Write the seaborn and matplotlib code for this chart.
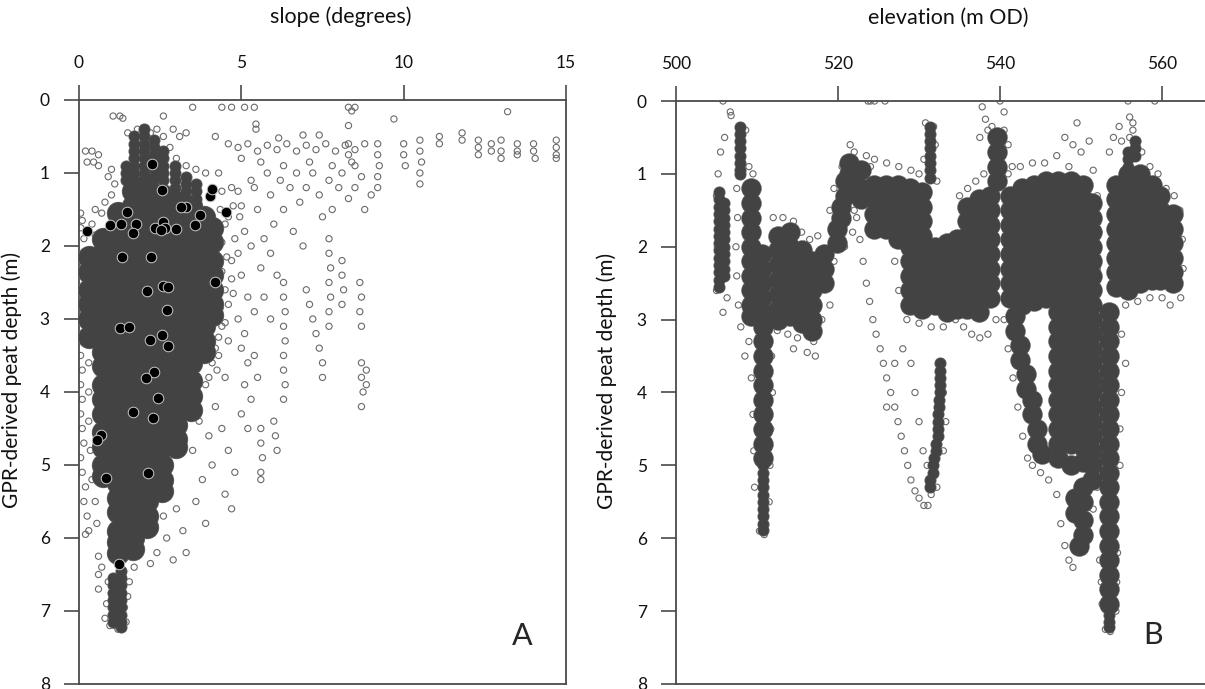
#!/usr/bin/env python3
"""
Peat depth from GPR against slope (A) and elevation (B).
Two scatter panels, depth axis pointing down, x axis on top.
"""
import matplotlib
matplotlib.use("Agg")
import matplotlib.pyplot as plt
import pandas as pd
import seaborn as sns

# ---------------------------------------------------------------- panel A data
# dense part of the cloud, as columns: (slope, [depths])
a_core = [
    (0.30, [2.15, 2.35, 2.6, 2.8, 3.0, 3.25]),
    (0.75, [1.9, 2.1, 2.35, 2.55, 2.8, 3.0, 3.2, 3.45, 3.65, 3.9, 4.1, 4.3, 4.55, 4.75, 5.0, 5.15]),
    (1.20, [1.55, 1.75, 2.0, 2.2, 2.4, 2.65, 2.85, 3.05, 3.3, 3.5, 3.7, 3.95, 4.15, 4.35, 4.6, 4.8,
            5.0, 5.25, 5.45, 5.65, 5.9, 6.05, 6.2]),
    (1.65, [1.25, 1.45, 1.7, 1.9, 2.1, 2.35, 2.55, 2.75, 3.0, 3.2, 3.4, 3.65, 3.85, 4.05, 4.3, 4.5,
            4.7, 4.95, 5.15, 5.35, 5.6, 5.8, 6.0, 6.15]),
    (2.10, [1.15, 1.35, 1.6, 1.8, 2.0, 2.25, 2.45, 2.65, 2.9, 3.1, 3.3, 3.55, 3.75, 3.95, 4.2, 4.4,
            4.6, 4.85, 5.05, 5.25, 5.5, 5.7, 5.85]),
    (2.55, [1.3, 1.5, 1.75, 1.95, 2.15, 2.4, 2.6, 2.8, 3.05, 3.25, 3.45, 3.7, 3.9, 4.1, 4.35, 4.55,
            4.75, 5.0, 5.2, 5.35]),
    (3.00, [1.4, 1.6, 1.85, 2.05, 2.25, 2.5, 2.7, 2.9, 3.15, 3.35, 3.55, 3.8, 4.0, 4.2, 4.45, 4.65, 4.75]),
    (3.45, [1.45, 1.65, 1.9, 2.1, 2.3, 2.55, 2.75, 2.95, 3.2, 3.4, 3.6, 3.85, 4.05, 4.25]),
    (3.85, [1.6, 1.8, 2.05, 2.25, 2.45, 2.7, 2.9, 3.1, 3.3, 3.45]),
    (4.10, [1.75, 1.95, 2.2, 2.4, 2.6, 2.8, 2.95]),
]

# thinner dark streaks: (slope, [depths])
a_band = [
    (1.45, [0.9, 1.0, 1.1]),
    (1.70, [0.5, 0.6, 0.7, 0.8, 0.9, 1.0, 1.1]),
    (2.00, [0.4, 0.5, 0.6, 0.7, 0.8, 0.9, 1.0]),
    (2.30, [0.55, 0.65, 0.75, 0.85, 0.95, 1.05]),
    (2.60, [0.7, 0.8, 0.9, 1.0, 1.1]),
    (2.95, [0.9, 1.0, 1.1, 1.2]),
    (3.30, [1.05, 1.15, 1.25]),
    (3.60, [1.15, 1.25, 1.35]),
    (1.05, [6.55, 6.65, 6.75, 6.85, 6.95, 7.05, 7.15]),
    (1.30, [6.45, 6.55, 6.65, 6.75, 6.85, 6.95, 7.05, 7.15, 7.22]),
]

# loose points around the cloud: (slope, depth)
a_sparse_top = [
    (3.5, 0.1), (4.4, 0.1), (4.7, 0.1), (5.1, 0.1), (5.4, 0.1), (8.3, 0.1), (8.4, 0.15),
    (8.5, 0.1), (8.3, 0.35), (9.7, 0.26), (13.2, 0.16), (1.05, 0.22), (1.26, 0.22),
    (1.35, 0.25), (2.6, 0.22), (1.5, 0.45), (1.8, 0.4), (2.2, 0.45), (2.4, 0.4), (2.6, 0.5),
    (2.9, 0.4), (3.1, 0.5), (3.3, 0.45), (1.9, 0.6), (2.8, 0.65), (5.45, 0.33), (5.45, 0.4),
    (4.2, 0.5), (6.15, 0.52), (6.9, 0.48), (7.4, 0.48),
    (0.2, 0.7), (0.4, 0.7), (0.6, 0.75), (0.25, 0.85), (0.45, 0.85), (0.6, 0.9),
    (0.9, 1.05), (1.0, 0.95), (1.1, 1.15), (1.0, 1.3), (0.8, 1.4), (0.7, 1.55), (0.5, 1.5),
    (3.3, 0.9), (3.6, 0.95), (3.9, 1.0), (4.1, 1.2), (1.8, 1.15), (2.2, 1.15), (3.0, 0.8),
    (0.05, 1.55), (0.1, 1.65), (0.05, 1.75), (0.15, 1.9), (0.4, 1.7), (0.5, 1.85),
]
a_sparse_mid = [
    (4.6, 0.6), (4.9, 0.65), (5.2, 0.6), (5.5, 0.7), (5.8, 0.62), (6.1, 0.68), (6.4, 0.6),
    (6.7, 0.7), (7.0, 0.62), (7.3, 0.68), (7.6, 0.6), (7.9, 0.7), (8.2, 0.62), (8.5, 0.68),
    (8.8, 0.6), (5.0, 0.8), (5.6, 0.85), (6.3, 0.9), (7.1, 0.85), (7.8, 0.9), (8.4, 0.85),
    (4.6, 1.6), (4.7, 2.2), (4.6, 2.8), (4.4, 3.1), (5.0, 1.45), (5.1, 1.8), (4.9, 2.1),
    (5.0, 2.4), (5.2, 2.7), (5.4, 1.2), (5.5, 1.5), (5.3, 2.0), (5.6, 2.3), (5.8, 1.0),
    (5.9, 1.3), (6.0, 1.7), (6.2, 1.1), (6.3, 1.5), (6.5, 1.2), (6.7, 1.0), (6.8, 1.4),
    (7.0, 1.2), (7.2, 1.0), (7.4, 1.3), (7.5, 1.6), (7.7, 1.1), (7.8, 1.5), (8.0, 1.2),
    (8.1, 1.0), (8.3, 1.35), (8.5, 1.2), (8.7, 1.05), (8.8, 1.5), (9.0, 1.3), (5.7, 1.9),
    (5.9, 2.1), (6.1, 2.4), (5.4, 2.9), (5.7, 2.7), (5.9, 3.0), (6.6, 1.8), (6.9, 2.0),
    (5.3, 1.1), (4.9, 3.0), (5.1, 3.2),
    (4.3, 1.0), (4.4, 1.25), (4.35, 1.5), (4.5, 1.7), (4.4, 1.95), (4.55, 2.15), (4.4, 2.35),
    (4.5, 2.6), (4.35, 2.85), (4.5, 3.05), (4.3, 3.25), (4.7, 1.2), (4.75, 1.45), (4.8, 1.9),
    (4.7, 2.45), (4.75, 2.65), (4.9, 1.25), (4.95, 1.6), (4.6, 3.3), (4.2, 3.4), (4.25, 3.7),
    (4.0, 3.8),
]
a_sparse_streaks = [
    (6.3, 2.5), (6.3, 2.7), (6.35, 2.9), (6.3, 3.1), (6.35, 3.3), (6.3, 3.5), (6.3, 3.7),
    (6.35, 3.9), (6.3, 4.1), (7.0, 2.6), (7.1, 2.8), (7.2, 3.0), (7.3, 3.2), (7.4, 3.4),
    (7.5, 3.6), (7.5, 3.8), (7.7, 1.9), (7.7, 2.1), (7.75, 2.3), (7.7, 2.5), (7.75, 2.7),
    (7.7, 2.9), (7.7, 3.1), (8.1, 2.2), (8.1, 2.4), (8.15, 2.6), (8.1, 2.8), (8.7, 3.6),
    (8.7, 3.8), (8.75, 4.0), (8.7, 4.2), (8.85, 3.7), (8.85, 3.9), (8.65, 2.5), (8.7, 2.7),
    (8.65, 2.9), (8.7, 3.1), (5.6, 4.5), (5.6, 4.7), (5.65, 4.9), (5.6, 5.1), (5.6, 5.2),
    (6.0, 4.4), (6.05, 4.6), (6.1, 4.8), (5.0, 3.4), (5.2, 3.6), (5.1, 3.9), (5.3, 4.1),
    (5.4, 3.5), (5.5, 3.8), (5.0, 4.3), (5.2, 4.5), (4.3, 3.5), (4.5, 3.8), (4.2, 4.2),
    (4.4, 4.5), (4.6, 4.8), (4.8, 5.1), (4.5, 5.4), (4.7, 5.6), (4.0, 4.6), (4.1, 5.0),
    (3.8, 5.2), (3.6, 5.5), (3.9, 5.8), (3.5, 4.8), (3.7, 4.4), (3.9, 3.9), (4.1, 3.6),
]
a_sparse_low = [
    (3.0, 5.6), (3.2, 5.9), (2.7, 6.0), (3.3, 6.2), (2.9, 6.3), (2.6, 5.7), (2.4, 6.2),
    (2.2, 6.35), (0.05, 3.5), (0.1, 3.7), (0.05, 3.9), (0.1, 4.1), (0.05, 4.3), (0.1, 4.5),
    (0.15, 4.7), (0.05, 4.9), (0.1, 5.1), (0.2, 5.3), (0.15, 5.5), (0.25, 5.7), (0.3, 5.9),
    (0.2, 5.95), (0.3, 3.6), (0.3, 4.0), (0.3, 4.4), (0.35, 4.8), (0.4, 5.2), (0.5, 5.5),
    (0.55, 5.8), (0.6, 6.25), (0.7, 6.4), (0.9, 6.6), (1.0, 6.75), (0.85, 6.9), (1.0, 7.05),
    (1.1, 7.2), (1.2, 7.25), (1.3, 7.1), (1.4, 6.95), (1.5, 6.8), (1.15, 6.6), (1.35, 6.5),
    (1.25, 6.85), (1.45, 7.15), (0.8, 7.1), (0.6, 6.5), (0.6, 6.7), (1.1, 6.9), (1.3, 6.7),
    (0.95, 7.2), (1.55, 6.6), (1.7, 6.4),
]
a_sparse_tail = [
    (8.3, 0.6), (8.3, 0.75), (8.5, 0.9), (9.2, 0.6), (9.2, 0.75), (9.25, 0.9), (9.2, 1.05),
    (9.2, 1.2), (10.0, 0.6), (10.0, 0.75), (10.05, 0.9), (10.5, 0.55), (10.5, 0.7),
    (10.55, 0.85), (10.5, 1.0), (10.5, 1.15), (11.1, 0.5), (11.1, 0.6), (11.8, 0.45),
    (11.8, 0.55), (12.3, 0.55), (12.3, 0.65), (12.3, 0.75), (12.7, 0.6), (12.7, 0.7),
    (13.0, 0.55), (13.0, 0.7), (13.0, 0.8), (13.5, 0.6), (13.5, 0.7), (13.5, 0.75),
    (14.0, 0.6), (14.0, 0.7), (14.05, 0.8), (14.7, 0.55), (14.7, 0.65), (14.7, 0.75),
    (14.7, 0.8),
]

# probed peat depths (black dots): (slope, depth)
a_probes = [
    (0.25, 1.79), (2.25, 0.88), (2.55, 1.23), (1.48, 1.53), (3.29, 1.47), (3.14, 1.47),
    (4.03, 1.32), (4.09, 1.22), (4.52, 1.53), (3.72, 1.58), (0.95, 1.71), (1.29, 1.70),
    (1.75, 1.70), (1.66, 1.82), (2.34, 1.75), (2.58, 1.67), (2.65, 1.75), (2.98, 1.77),
    (3.57, 1.71), (2.52, 1.78), (2.22, 2.15), (1.32, 2.15), (4.18, 2.49), (2.09, 2.62),
    (2.58, 2.55), (2.74, 2.56), (2.71, 2.88), (1.26, 3.12), (1.54, 3.11), (2.55, 3.22),
    (2.18, 3.29), (2.74, 3.37), (2.31, 3.73), (2.06, 3.81), (2.43, 4.08), (2.28, 4.36),
    (1.66, 4.27), (0.68, 4.59), (0.55, 4.66), (0.83, 5.18), (2.12, 5.11), (1.23, 6.36),
]

# ---------------------------------------------------------------- panel B data
# dense bands: (elevation, [depths])
b_core = [
    (509.2, [1.2, 1.4, 1.6, 1.8, 2.0, 2.2, 2.4, 2.6, 2.8, 2.95]),
    (510.6, [2.1, 2.3, 2.5, 2.7, 2.9]),
    (510.7, [3.1, 3.3, 3.5, 3.7, 3.9, 4.1, 4.3, 4.5, 4.7, 4.9]),
    (512.6, [1.85, 2.05, 2.25, 2.45, 2.65, 2.85, 3.0]),
    (514.1, [1.8, 2.0, 2.2, 2.4, 2.6, 2.8, 2.95]),
    (515.6, [2.05, 2.25, 2.45, 2.65, 2.85, 3.05]),
    (516.8, [2.2, 2.4, 2.6, 2.8, 3.0, 3.15]),
    (518.3, [2.1, 2.3, 2.5]),
    (519.9, [1.75, 1.95]), (520.4, [1.45, 1.6]), (520.9, [1.1, 1.3]), (521.4, [0.85, 1.0]),
    (522.8, [0.95, 1.2, 1.35]),
    (524.4, [1.15, 1.35, 1.55, 1.75]),
    (525.9, [1.15, 1.35, 1.55, 1.75]),
    (527.4, [1.15, 1.35, 1.55, 1.75, 1.9]),
    (528.9, [1.2, 1.4, 1.6, 1.8, 2.0, 2.2, 2.4, 2.6, 2.8]),
    (530.4, [1.25, 1.45, 1.65, 1.85, 2.05, 2.25, 2.45, 2.65, 2.85]),
    (532.0, [2.0, 2.2, 2.4, 2.6, 2.8]),
    (533.5, [1.95, 2.15, 2.35, 2.55, 2.75, 2.9]),
    (534.7, [1.9, 2.1, 2.3, 2.5, 2.7, 2.85]),
    (535.9, [1.45, 1.65, 1.85, 2.05, 2.25, 2.45, 2.65, 2.85]),
    (537.4, [1.35, 1.55, 1.75, 1.95, 2.15, 2.35, 2.55, 2.75, 2.9]),
    (538.8, [1.3, 1.5, 1.7, 1.9, 2.1, 2.3, 2.5, 2.7]),
    (539.6, [0.5, 0.7, 0.9, 1.1]),
    (541.2, [1.3, 1.5, 1.7, 1.9, 2.1, 2.3, 2.5, 2.7]),
    (542.7, [1.2, 1.4, 1.6, 1.8, 2.0, 2.2, 2.4, 2.6, 2.8]),
    (544.2, [1.15, 1.35, 1.55, 1.75, 1.95, 2.15, 2.35, 2.55, 2.75]),
    (545.7, [1.1, 1.3, 1.5, 1.7, 1.9, 2.1, 2.3, 2.5, 2.7]),
    (547.2, [1.1, 1.3, 1.5, 1.7, 1.9, 2.1, 2.3, 2.5, 2.7, 2.9, 3.1, 3.3, 3.5, 3.7, 3.9, 4.1,
             4.3, 4.5, 4.7, 4.9]),
    (548.7, [1.1, 1.3, 1.5, 1.7, 1.9, 2.1, 2.3, 2.5, 2.7, 2.9, 3.1, 3.3, 3.5, 3.7, 3.9, 4.1,
             4.3, 4.5, 4.7, 5.0]),
    (550.2, [1.15, 1.35, 1.55, 1.75, 1.95, 2.15, 2.35, 2.55, 2.75, 2.95, 3.15, 3.35, 3.55,
             3.75, 3.95, 4.15, 4.35, 4.55, 4.75, 4.95, 5.3]),
    (551.4, [1.4, 1.6, 1.8, 2.0, 2.2, 2.4, 2.6, 2.8, 3.0, 3.2, 3.4, 3.6, 3.8, 4.0, 4.2, 4.4,
             4.6, 4.8, 5.0, 5.2]),
    (541.8, [2.95, 3.15]), (542.5, [3.35, 3.55]), (543.2, [3.75, 3.95]), (543.9, [4.1, 4.3]),
    (544.6, [4.5, 4.7]), (545.2, [4.85]),
    (549.2, [5.45, 5.65]), (550.3, [5.5, 5.75, 5.95]), (549.8, [6.1]),
    (553.5, [2.9, 3.1, 3.3, 3.5, 3.7, 3.9, 4.1, 4.3, 4.5, 4.7, 4.9, 5.1, 5.3, 5.5, 5.7, 5.9,
             6.1, 6.3, 6.5, 6.7, 6.9]),
    (554.3, [1.15, 1.35, 1.55, 1.75, 1.95, 2.15, 2.35, 2.55]),
    (555.8, [1.0, 1.2, 1.4, 1.6, 1.8, 2.0, 2.2, 2.4, 2.6]),
    (557.3, [1.0, 1.2, 1.4, 1.6, 1.8, 2.0, 2.2, 2.4, 2.5]),
    (558.8, [1.15, 1.35, 1.55, 1.75, 1.95, 2.15, 2.35, 2.45]),
    (559.8, [1.3, 1.5, 1.7, 1.9, 2.1, 2.3, 2.45]),
    (561.3, [1.55, 1.75, 1.95, 2.15, 2.35, 2.5]),
]

# thin dark traces: (elevation, [depths])
b_band = [
    (505.3, [1.25, 1.35, 1.45, 1.55, 1.65, 1.75, 1.85, 1.95, 2.05, 2.15, 2.25, 2.35, 2.45, 2.55]),
    (505.9, [1.4, 1.5, 1.6, 1.7, 1.8, 1.9, 2.0, 2.1, 2.2, 2.3, 2.4]),
    (507.9, [0.35, 0.45, 0.55, 0.65, 0.75, 0.85, 0.95, 1.0]),
    (510.7, [5.0, 5.1, 5.2, 5.3, 5.4, 5.5, 5.6, 5.7, 5.8, 5.88]),
    (532.6, [3.6, 3.7, 3.8, 3.9, 4.0]), (532.5, [4.1, 4.2]), (532.4, [4.3, 4.4]),
    (532.3, [4.5, 4.6]), (532.1, [4.7, 4.8]), (531.9, [4.9]), (531.7, [5.0, 5.1]),
    (531.4, [5.2, 5.3]),
    (531.3, [0.35, 0.45, 0.55, 0.65, 0.75, 0.85, 0.95, 1.05]),
    (553.4, [6.95, 7.05, 7.15, 7.22]),
    (555.8, [0.7, 0.8, 0.9]), (556.6, [0.55, 0.65, 0.75]),
]

# loose points: (elevation, depth)
b_sparse_west = [
    (505.8, 0.0), (506.7, 0.15), (506.8, 0.2), (505.0, 1.3), (505.2, 1.0), (505.5, 0.7),
    (506.0, 0.5), (505.1, 2.0), (506.2, 2.2), (505.0, 2.6), (506.3, 2.7), (505.8, 2.9),
    (508.0, 3.1), (508.5, 3.5), (509.0, 3.3), (509.3, 3.8), (509.5, 4.3), (509.6, 4.8),
    (509.7, 5.3), (511.8, 3.5), (511.9, 4.0), (511.7, 4.5), (511.6, 5.0), (511.5, 5.5),
    (510.3, 5.9), (510.9, 5.95), (507.5, 1.2), (507.6, 1.6), (507.4, 2.0), (507.5, 2.4),
    (507.7, 2.8), (509.0, 0.9), (509.5, 1.0), (508.6, 0.4),
    (512.0, 1.6), (513.2, 1.6), (514.5, 1.65), (515.5, 1.8), (516.5, 1.9), (517.5, 1.85),
    (512.5, 3.15), (513.8, 3.2), (515.0, 3.25), (516.2, 3.45), (517.2, 3.5), (518.0, 3.0),
    (519.0, 2.8), (519.5, 2.2), (517.0, 3.3), (514.5, 3.4),
    (519.0, 1.5), (519.5, 1.2), (520.5, 0.9), (521.5, 0.6), (522.0, 0.7), (523.5, 0.75),
    (524.0, 0.9), (522.0, 1.5), (521.8, 1.8), (520.8, 2.0),
    (523.7, 0.0), (524.0, 0.0), (524.5, 0.0), (525.8, 0.0),
]
b_sparse_trough = [
    (522.3, 1.6), (522.7, 1.9), (523.1, 2.2), (523.5, 2.5), (523.9, 2.75), (524.3, 3.0),
    (524.7, 3.2), (525.2, 3.4), (525.6, 3.6), (526.0, 3.8), (526.5, 4.0), (527.0, 4.2),
    (527.4, 4.4), (527.8, 4.6), (528.2, 4.8), (528.6, 5.0), (529.0, 5.2), (529.5, 5.35),
    (530.0, 5.45), (530.6, 5.55), (531.1, 5.55), (531.5, 5.4), (526.0, 4.2), (527.0, 3.6),
    (528.0, 3.4), (529.0, 3.6), (529.5, 4.0), (530.0, 4.4), (530.5, 4.8), (531.0, 5.0),
    (533.0, 4.0), (533.3, 4.4), (533.0, 4.8), (532.2, 5.3),
    (524.5, 0.8), (526.0, 0.85), (527.5, 0.9), (529.0, 0.95), (530.0, 1.0), (534.5, 1.9),
    (535.0, 2.2), (534.5, 3.0), (533.0, 3.1), (531.5, 3.1), (530.0, 3.05), (528.5, 3.0),
    (527.5, 2.6), (527.0, 2.2), (530.8, 0.3), (531.8, 0.35), (532.0, 0.6), (530.6, 0.8),
    (532.2, 1.1),
]
b_sparse_east = [
    (537.8, 0.08), (540.0, 0.0), (540.5, 0.15), (538.2, 0.25), (554.7, 0.35), (556.4, 0.3),
    (556.4, 0.4), (555.8, 0.0), (559.1, 0.0), (556.0, 0.22),
    (535.0, 1.3), (536.0, 1.2), (537.0, 1.1), (538.0, 1.0), (537.5, 0.5), (538.5, 0.4),
    (539.0, 0.35), (540.5, 0.4), (541.0, 0.6), (541.5, 0.9), (535.5, 3.1), (536.5, 3.2),
    (537.5, 3.25), (538.5, 3.2), (539.5, 3.0),
    (541.0, 1.0), (542.5, 0.9), (544.0, 0.85), (545.5, 0.85), (547.0, 0.75), (548.0, 0.5),
    (549.0, 0.6), (550.0, 0.7), (551.0, 0.55), (549.5, 0.3), (548.5, 0.9), (551.5, 0.95),
    (552.0, 1.3), (552.2, 1.8), (552.0, 2.3),
    (540.5, 3.0), (541.0, 3.4), (541.6, 3.8), (542.2, 4.2), (542.8, 4.6), (543.4, 4.9),
    (544.0, 5.0), (545.0, 5.1), (546.0, 5.2), (547.0, 5.4), (547.5, 5.8), (548.0, 6.1),
    (548.5, 6.3), (549.0, 6.4), (551.0, 6.0), (551.5, 5.6), (552.0, 5.3),
    (552.3, 6.3), (552.5, 6.6), (552.6, 6.9), (554.5, 6.2), (554.4, 6.6), (554.3, 7.0),
    (553.6, 7.28), (553.0, 7.25),
    (553.5, 0.7), (554.0, 0.5), (555.0, 0.55), (556.0, 0.5), (557.0, 0.55), (557.5, 0.7),
    (558.5, 0.9), (559.5, 1.0), (560.5, 1.2), (561.5, 1.3), (562.2, 1.5), (562.5, 1.9),
    (562.6, 2.3), (562.3, 2.7), (561.0, 2.8), (560.0, 2.7), (558.5, 2.7), (557.0, 2.75),
    (555.5, 2.8), (554.0, 2.9), (555.0, 3.2), (555.5, 3.6), (555.0, 4.0), (554.8, 4.5),
    (554.8, 5.0),
]

A_TICKS = [0, 5, 10, 15]
B_TICKS = [500, 520, 540, 560]
DEPTH_TICKS = [0, 1, 2, 3, 4, 5, 6, 7, 8]

DARK = "#434343"
RING = "#6a6a6a"
SPINE = "#4a4a4a"


def columns_to_frame(cols):
    rows = [(x, d) for x, depths in cols for d in depths]
    return pd.DataFrame(rows, columns=["x", "depth"])


def points_to_frame(*groups):
    rows = [p for g in groups for p in g]
    return pd.DataFrame(rows, columns=["x", "depth"])


def draw_cloud(ax, core, band, sparse, core_size):
    # open rings first
    sns.scatterplot(data=sparse, x="x", y="depth", ax=ax, s=20, marker="o",
                    facecolors="none", edgecolor=RING, linewidth=0.8, legend=False, zorder=2)
    # solid parts: a grey-rimmed pass underneath so the outer edge looks ringed
    for df, size in [(band, 60), (core, core_size)]:
        sns.scatterplot(data=df, x="x", y="depth", ax=ax, s=size, marker="o",
                        color=DARK, edgecolor=RING, linewidth=1.0, legend=False, zorder=3)
    for df, size in [(band, 60), (core, core_size)]:
        sns.scatterplot(data=df, x="x", y="depth", ax=ax, s=size, marker="o",
                        color=DARK, edgecolor=DARK, linewidth=0, legend=False, zorder=4)


def style_axes(ax, xticks, xlim, xlabel, label_x, right_spine):
    ax.set_xlim(*xlim)
    ax.set_ylim(8, 0)
    ax.set_xticks(xticks)
    ax.set_yticks(DEPTH_TICKS)
    ax.xaxis.tick_top()
    ax.xaxis.set_label_position("top")
    ax.tick_params(axis="x", top=True, bottom=False, labeltop=True, labelbottom=False,
                   direction="out", length=11, width=1.2, color=SPINE, pad=10,
                   labelsize=12.5, labelcolor="#111111")
    ax.tick_params(axis="y", left=True, direction="out", length=11, width=1.2,
                   color=SPINE, pad=10, labelsize=12.5, labelcolor="#111111")
    for side in ["left", "top", "bottom", "right"]:
        ax.spines[side].set_color(SPINE)
        ax.spines[side].set_linewidth(1.3)
    ax.spines["right"].set_visible(right_spine)
    ax.set_xlabel(xlabel, fontsize=15.5, color="#111111")
    ax.xaxis.set_label_coords(label_x, 1.132)
    ax.set_ylabel("GPR-derived peat depth (m)", fontsize=15, color="#111111")
    ax.grid(False)
    ax.set_facecolor("white")


sns.set_theme(style="white")
plt.rcParams["font.family"] = ["Lato", "DejaVu Sans"]

fig = plt.figure(figsize=(12.05, 6.89), dpi=100)
ax_a = fig.add_axes([0.06556, 0.00726, 0.40415, 0.84761])
ax_b = fig.add_axes([0.56100, 0.00726, 0.43900, 0.84615])

# panel A
draw_cloud(ax_a, columns_to_frame(a_core), columns_to_frame(a_band),
           points_to_frame(a_sparse_top, a_sparse_mid, a_sparse_streaks, a_sparse_low, a_sparse_tail),
           core_size=250)
sns.scatterplot(data=points_to_frame(a_probes), x="x", y="depth", ax=ax_a, s=58, marker="o",
                color="black", edgecolor="#c8c8c8", linewidth=0.7, legend=False, zorder=5)
style_axes(ax_a, A_TICKS, (0, 15), "slope (degrees)", 0.538, True)
ax_a.yaxis.set_label_coords(-0.117, 0.52)
ax_a.text(0.910, 0.082, "A", transform=ax_a.transAxes, fontsize=22, ha="center", va="center")

# panel B
draw_cloud(ax_b, columns_to_frame(b_core), columns_to_frame(b_band),
           points_to_frame(b_sparse_west, b_sparse_trough, b_sparse_east),
           core_size=190)
style_axes(ax_b, B_TICKS, (500, 565.3), "elevation (m OD)", 0.514, False)
ax_b.yaxis.set_label_coords(-0.1115, 0.52)
ax_b.text(0.902, 0.084, "B", transform=ax_b.transAxes, fontsize=22, ha="center", va="center")

fig.savefig("out.png", dpi=100)
